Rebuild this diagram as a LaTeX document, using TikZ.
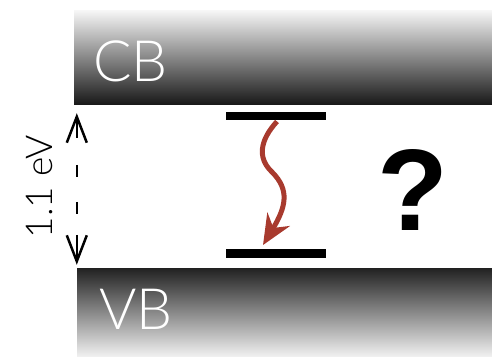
\documentclass[tikz,border=0pt]{standalone}
\usepackage{fontspec}
\setmainfont{Liberation Sans}
\newfontfamily\lightfont{Lato Light}
\usetikzlibrary{arrows.meta,calc}
\definecolor{arrowred}{HTML}{A83A2E}
\tikzset{
  band/.style={rectangle, inner sep=0pt, draw=none},
  bandlabel/.style={anchor=base west, inner sep=0pt, text=white, font=\lightfont\fontsize{57}{57}\selectfont},
  level/.style={rectangle, fill=black, inner sep=0pt, minimum width=100pt, minimum height=8.5pt},
  barb/.tip={Straight Barb[length=26pt,width=20pt,line width=2.5pt]},
  gaparrow/.style={line width=2.5pt, dash pattern=on 20pt off 27pt on 12pt off 25pt on 12pt off 21pt on 45pt off 10pt, barb-barb},
  relax/.style={line width=5pt, draw=arrowred, -{Stealth[length=30pt,width=26pt,inset=10pt]}}
}
\begin{document}
\begin{tikzpicture}[x=1pt,y=-1pt]
\path[use as bounding box] (0,0) rectangle (492,356);
\node[band, top color=white!97!black, bottom color=black!90, minimum width=418pt, minimum height=94pt] (cb) at (283,57) {};
\node[band, top color=black!87, bottom color=white!94!black, minimum width=415pt, minimum height=88pt] (vb) at (284.5,312) {};
\node[bandlabel] (cblabel) at (93,81) {CB};
\node[bandlabel] (vblabel) at (99,329) {VB};
\node[level] (upper) at (276,116) {};
\node[level] (lower) at (276,253.5) {};
\coordinate (gtop) at ($(cb.south west)+(3,9)$);
\coordinate (gbot) at ($(vb.north west)+(0,-3)$);
\draw[gaparrow] (gtop) -- (gbot);
\node[rotate=90, inner sep=0pt, font=\lightfont\fontsize{37}{37}\selectfont] (gap) at (39,187) {1.1 eV};
\coordinate (rstart) at ($(upper.south)+(1,1)$);
\coordinate (rmid) at (272,172);
\coordinate (rend) at ($(lower.north)+(-13,-4)$);
\draw[relax] (rstart) .. controls (260,140) and (257,158) .. (rmid) .. controls (290,190) and (286,207) .. (rend);
\node[anchor=base, inner sep=0pt, font=\bfseries\fontsize{116}{116}\selectfont] (qm) at (413,230) {?};
\end{tikzpicture}
\end{document}
